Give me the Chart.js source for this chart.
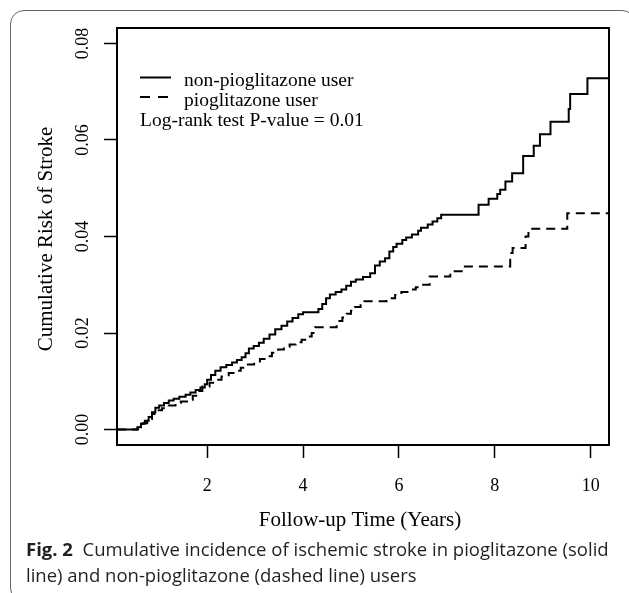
<!DOCTYPE html>
<html>
<head>
<meta charset="utf-8">
<script src="https://cdn.jsdelivr.net/npm/chart.js@4.4.1/dist/chart.umd.min.js"></script>
<style>
  html, body { margin: 0; padding: 0; background: #fff; }
  #wrap { position: relative; width: 629px; height: 593px; overflow: hidden; }
  #frame { position: absolute; left: 10px; top: 10px; width: 626px; height: 592px; border: 1px solid #666; border-radius: 14px; box-sizing: border-box; }
  #box { position: absolute; left: 0; top: 0; width: 629px; height: 593px; }
  #caption { position: absolute; left: 26px; top: 536px; font-family: "Open Sans", sans-serif; font-size: 18.5px; line-height: 26px; color: #231f20; white-space: nowrap; }
</style>
</head>
<body>
<div id="wrap">
  <div id="frame"></div>
  <div id="box"><canvas id="myChart"></canvas></div>
  <div id="caption"><b>Fig. 2</b>&nbsp; Cumulative incidence of ischemic stroke in pioglitazone (solid<br>line) and non-pioglitazone (dashed line) users</div>
</div>
<script>
// step curves (years, cumulative risk)
const nonPioTime = [0.12, 0.55, 0.62, 0.70, 0.78, 0.85, 0.92, 1.00, 1.10, 1.20, 1.30, 1.42, 1.55, 1.65, 1.76, 1.86, 1.95,
  2.00, 2.08, 2.17, 2.28, 2.40, 2.52, 2.62, 2.72, 2.80, 2.87, 2.97, 3.08, 3.18, 3.30, 3.42, 3.55, 3.67, 3.78, 3.90,
  4.00, 4.32, 4.40, 4.48, 4.56, 4.68, 4.80, 4.90, 5.00, 5.10, 5.25, 5.40, 5.50, 5.60, 5.71, 5.80, 5.88, 5.95,
  6.07, 6.15, 6.27, 6.40, 6.46, 6.60, 6.70, 6.80, 6.88, 7.66, 7.87, 8.05, 8.11, 8.22, 8.36, 8.59, 8.81, 8.94,
  9.16, 9.54, 9.57, 9.93, 10.38];
const nonPioRisk = [0, 0.0005, 0.0012, 0.0018, 0.0026, 0.0036, 0.0045, 0.0050, 0.0055, 0.0060, 0.0064, 0.0068, 0.0072, 0.0077, 0.0082, 0.0087, 0.0094,
  0.0103, 0.0113, 0.0122, 0.0129, 0.0134, 0.0139, 0.0144, 0.0150, 0.0158, 0.0168, 0.0173, 0.0180, 0.0188, 0.0197, 0.0208, 0.0215, 0.0224, 0.0231, 0.0239,
  0.0243, 0.0250, 0.0260, 0.0272, 0.0280, 0.0285, 0.0290, 0.0298, 0.0306, 0.0311, 0.0316, 0.0324, 0.0340, 0.0348, 0.0355, 0.0369, 0.0378, 0.0385,
  0.0393, 0.0398, 0.0404, 0.0412, 0.0418, 0.0425, 0.0431, 0.0438, 0.0445, 0.0466, 0.0478, 0.0488, 0.0497, 0.0514, 0.0531, 0.0567, 0.0588, 0.0612,
  0.0638, 0.0664, 0.0695, 0.0728, 0.0728];

const pioTime = [0.12, 0.55, 0.65, 0.75, 0.85, 0.95, 1.06, 1.20, 1.34, 1.45, 1.58, 1.70, 1.80, 1.90, 2.05, 2.17, 2.30, 2.45,
  2.58, 2.70, 2.85, 2.98, 3.10, 3.23, 3.35, 3.48, 3.60, 3.72, 3.85, 3.97, 4.10, 4.18, 4.25, 4.70, 4.82, 4.91, 5.00,
  5.08, 5.20, 5.28, 5.74, 5.92, 6.05, 6.20, 6.35, 6.46, 6.64, 7.07, 7.33, 8.32, 8.37, 8.64, 8.70, 9.51, 10.38];
const pioRisk = [0, 0.0005, 0.0013, 0.0022, 0.0032, 0.0040, 0.0044, 0.0050, 0.0055, 0.0058, 0.0062, 0.0070, 0.0080, 0.0089, 0.0097, 0.0103, 0.0110, 0.0117,
  0.0122, 0.0128, 0.0135, 0.0141, 0.0146, 0.0152, 0.0159, 0.0166, 0.0171, 0.0176, 0.0181, 0.0186, 0.0193, 0.0200, 0.0212, 0.0225, 0.0232, 0.0240, 0.0246,
  0.0254, 0.0260, 0.0266, 0.0272, 0.0279, 0.0285, 0.0290, 0.0295, 0.0300, 0.0317, 0.0328, 0.0338, 0.0366, 0.0376, 0.0400, 0.0416, 0.0448, 0.0448];

const xTicks = [2, 4, 6, 8, 10];
const yTicks = [0, 0.02, 0.04, 0.06, 0.08];
const seriesNames = ["non-pioglitazone user", "pioglitazone user"];
const pText = "Log-rank test P-value = 0.01";
const xTitle = "Follow-up Time (Years)";
const yTitle = "Cumulative Risk of Stroke";

const serif = '"Liberation Serif", "Times New Roman", serif';

function pairs(xs, ys) {
  return xs.map((x, i) => ({ x: x, y: ys[i] }));
}

// frame, rotated y labels, titles and the in-plot legend
const annotate = {
  id: 'annotate',
  afterDraw(chart) {
    const ctx = chart.ctx;
    const a = chart.chartArea;
    const xs = chart.scales.x;
    const ys = chart.scales.y;
    ctx.save();
    ctx.strokeStyle = '#000';
    ctx.lineWidth = 2;
    ctx.strokeRect(a.left, a.top, a.right - a.left, a.bottom - a.top);

    ctx.fillStyle = '#000';
    ctx.textAlign = 'center';
    ctx.textBaseline = 'alphabetic';
    ctx.font = '18px ' + serif;
    xTicks.forEach(v => ctx.fillText(String(v), xs.getPixelForValue(v), 491));
    yTicks.forEach(v => {
      ctx.save();
      ctx.translate(88, ys.getPixelForValue(v));
      ctx.rotate(-Math.PI / 2);
      ctx.fillText(v.toFixed(2), 0, 0);
      ctx.restore();
    });

    ctx.font = '21px ' + serif;
    ctx.fillText(xTitle, 360, 526);
    ctx.save();
    ctx.translate(52, 239);
    ctx.rotate(-Math.PI / 2);
    ctx.fillText(yTitle, 0, 0);
    ctx.restore();

    // legend
    ctx.lineWidth = 2;
    ctx.beginPath();
    ctx.moveTo(140, 77.5);
    ctx.lineTo(171, 77.5);
    ctx.stroke();
    ctx.setLineDash([10, 8]);
    ctx.beginPath();
    ctx.moveTo(140, 97);
    ctx.lineTo(170, 97);
    ctx.stroke();
    ctx.setLineDash([]);
    ctx.textAlign = 'left';
    ctx.font = '19.5px ' + serif;
    ctx.fillText(seriesNames[0], 184, 86);
    ctx.fillText(seriesNames[1], 184, 105.5);
    ctx.fillText(pText, 140, 125.5);
    ctx.restore();
  }
};

const ctx = document.getElementById('myChart');

new Chart(ctx, {
  type: 'line',
  data: {
    datasets: [
      {
        label: seriesNames[0],
        data: pairs(nonPioTime, nonPioRisk),
        borderColor: '#000',
        borderWidth: 2,
        pointRadius: 0,
        stepped: true,
        fill: false
      },
      {
        label: seriesNames[1],
        data: pairs(pioTime, pioRisk),
        borderColor: '#000',
        borderWidth: 2,
        borderDash: [9, 6],
        pointRadius: 0,
        stepped: true,
        fill: false
      }
    ]
  },
  options: {
    responsive: true,
    maintainAspectRatio: false,
    animation: false,
    layout: { padding: { left: 0, top: 28, right: 20, bottom: 0 } },
    plugins: {
      legend: { display: false },
      tooltip: { enabled: false }
    },
    scales: {
      x: {
        type: 'linear',
        min: 0.12,
        max: 10.38,
        afterBuildTicks: s => { s.ticks = xTicks.map(v => ({ value: v })); },
        afterFit: s => { s.height = 148; },
        ticks: { display: false },
        border: { display: false },
        grid: { drawOnChartArea: false, drawTicks: true, tickLength: 13, tickWidth: 1.5, tickColor: '#000' }
      },
      y: {
        type: 'linear',
        min: -0.0032,
        max: 0.0832,
        afterBuildTicks: s => { s.ticks = yTicks.map(v => ({ value: v })); },
        afterFit: s => { s.width = 117; },
        ticks: { display: false },
        border: { display: false },
        grid: { drawOnChartArea: false, drawTicks: true, tickLength: 13, tickWidth: 1.5, tickColor: '#000' }
      }
    }
  },
  plugins: [annotate]
});
</script>
</body>
</html>
